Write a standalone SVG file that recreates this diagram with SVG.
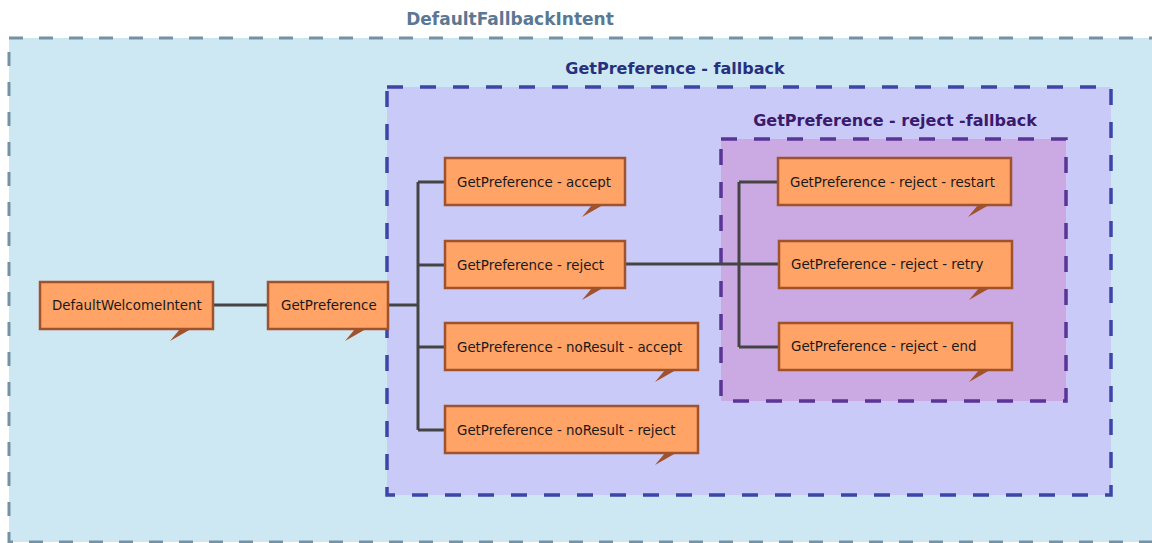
<svg xmlns="http://www.w3.org/2000/svg" width="1152" height="543" viewBox="0 0 1152 543">
  <style>
    .title { font-family: "DejaVu Sans", Verdana, sans-serif; font-weight: bold; font-size: 16px; text-anchor: middle; }
    .title.top { font-size: 17px; }
    .node rect { fill: #ffa366; stroke: #a0522d; stroke-width: 2.5; }
    .node polygon { fill: #a0522d; }
    .node text { font-family: "DejaVu Sans", Verdana, sans-serif; font-size: 13.4px; fill: #1a1a1a; }
    .edge { fill: none; stroke: #444444; stroke-width: 3; }
  </style>

  <!-- clusters -->
  <g id="cluster-fallback-intent">
    <rect x="9" y="38" width="1160" height="504" fill="#cde8f3" stroke="#7591a6" stroke-width="3" stroke-dasharray="14 16"/>
    <text class="title top" x="510" y="25" fill="#5a7893">DefaultFallbackIntent</text>
  </g>
  <g id="cluster-getpreference-fallback">
    <rect x="387" y="87" width="724" height="408" fill="#cacaf8" stroke="#3c46a8" stroke-width="3.5" stroke-dasharray="16 17"/>
    <text class="title" x="675" y="74" fill="#27307f">GetPreference - fallback</text>
  </g>
  <g id="cluster-reject-fallback">
    <rect x="721" y="139" width="345" height="262" fill="#cbaae3" stroke="#5b3595" stroke-width="3.5" stroke-dasharray="16 17"/>
    <text class="title" x="895" y="126" fill="#3a1a6c">GetPreference - reject -fallback</text>
  </g>

  <!-- connectors -->
  <g id="connectors">
    <path class="edge" d="M213 305 H268"/>
    <path class="edge" d="M388 305 H418 M418 182 V430 M418 182 H445 M418 265 H445 M418 347 H445 M418 430 H445"/>
    <path class="edge" d="M625 264 H779 M739 182 V347 M739 182 H778 M739 347 H779"/>
  </g>

  <!-- nodes -->
  <g id="node-default-welcome" class="node">
    <rect x="40" y="282" width="173" height="47"/>
    <polygon points="180,329 191,329 170,341"/>
    <text x="52" y="310">DefaultWelcomeIntent</text>
  </g>
  <g id="node-getpreference" class="node">
    <rect x="268" y="282" width="120" height="47"/>
    <polygon points="355,329 366,329 345,341"/>
    <text x="281" y="310">GetPreference</text>
  </g>
  <g id="node-accept" class="node">
    <rect x="445" y="158" width="180" height="47"/>
    <polygon points="592,205 603,205 582,217"/>
    <text x="457" y="187">GetPreference - accept</text>
  </g>
  <g id="node-reject" class="node">
    <rect x="445" y="241" width="180" height="47"/>
    <polygon points="592,288 603,288 582,300"/>
    <text x="457" y="270">GetPreference - reject</text>
  </g>
  <g id="node-noresult-accept" class="node">
    <rect x="445" y="323" width="253" height="47"/>
    <polygon points="665,370 676,370 655,382"/>
    <text x="457" y="352">GetPreference - noResult - accept</text>
  </g>
  <g id="node-noresult-reject" class="node">
    <rect x="445" y="406" width="253" height="47"/>
    <polygon points="665,453 676,453 655,465"/>
    <text x="457" y="435">GetPreference - noResult - reject</text>
  </g>
  <g id="node-reject-restart" class="node">
    <rect x="778" y="158" width="233" height="47"/>
    <polygon points="978,205 989,205 968,217"/>
    <text x="790" y="187">GetPreference - reject - restart</text>
  </g>
  <g id="node-reject-retry" class="node">
    <rect x="779" y="241" width="233" height="47"/>
    <polygon points="979,288 990,288 969,300"/>
    <text x="791" y="269">GetPreference - reject - retry</text>
  </g>
  <g id="node-reject-end" class="node">
    <rect x="779" y="323" width="233" height="47"/>
    <polygon points="979,370 990,370 969,382"/>
    <text x="791" y="351">GetPreference - reject - end</text>
  </g>
</svg>
